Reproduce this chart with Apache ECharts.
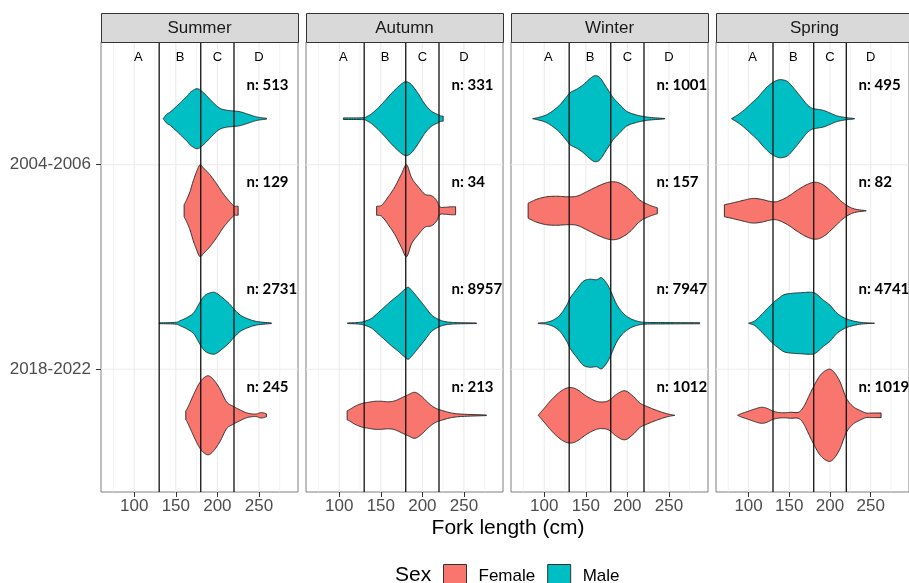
<!DOCTYPE html>
<html><head><meta charset="utf-8">
<script src="https://cdn.jsdelivr.net/npm/echarts@6/dist/echarts.min.js"></script>
<style>html,body{margin:0;padding:0;background:#fff}#c{width:909px;height:583px}</style>
</head><body><div id="c"></div><script>
// ---------------- data ----------------
const seasons = ['Summer', 'Autumn', 'Winter', 'Spring'];
const periods = ['2004-2006', '2018-2022'];
const xTicks = [100, 150, 200, 250];
const xMinorTicks = [75, 125, 175, 225, 275];
const classBreaks = [130, 180, 220];
const classLabels = ['A', 'B', 'C', 'D'];
const classLabelX = [105, 155, 200, 250];
const nMale2004 = [513, 331, 1001, 495];
const nFemale2004 = [129, 34, 157, 82];
const nMale2018 = [2731, 8957, 7947, 4741];
const nFemale2018 = [245, 213, 1012, 1019];

// violin profiles: [fork length (cm), relative density (widest violin = 46)]
const summerMale2004 = [[134.8,0],[139,4.5],[143,6.5],[151,12.5],[155,15.5],[159,19],[163,22],[167,26],[171,28.5],[175,30],[179,29],[187,23],[195,16],[203,10.5],[211,8.5],[219,7.8],[227,7],[235,5],[243,2.8],[247,1.8],[253,1],[259,0.5]];
const summerFemale2004 = [[160,6],[163,11],[167,19],[171,30],[175,39],[179,46],[183,43],[191,36],[199,27],[207,17],[215,9],[219,5.5],[221,4],[222,4.5],[225,4.5]];
const summerMale2018 = [[130,0.4],[151,1],[155,2.5],[163,5.5],[171,10],[175,15],[179,21],[183,26],[187,29],[195,31],[199,30],[207,25],[215,19],[219,15],[227,8.5],[235,5],[247,1.8],[265,0.3]];
const summerFemale2018 = [[162,4.5],[163,5.5],[167,12.5],[171,20],[175,27],[179,33],[183,37],[189,39.5],[195,36],[203,26.5],[211,13.5],[219,9],[227,5.5],[235,2.5],[243,1.3],[248,1.5],[251,2.5],[255,2.5],[259,1.5]];
const autumnMale2004 = [[105,0.8],[130,1],[133,2],[139,5],[147,11],[155,18],[163,25.5],[171,32],[177,36],[181,37],[187,34],[195,25],[203,14.5],[211,7.5],[219,4],[221,3],[225,2.5]];
const autumnFemale2004 = [[145,4.5],[151,5.5],[159,14],[167,24],[175,37],[181,46],[187,33],[195,24],[203,16.5],[211,15],[217,10.5],[221,4],[227,3.5],[235,4],[240,4]];
const autumnMale2018 = [[110,0.3],[123,0.8],[130,1.8],[139,5],[147,10.7],[155,16.7],[163,22.7],[171,28],[179,34],[183,36],[187,33],[195,25],[203,16.7],[211,8.3],[219,4],[227,1.7],[239,0.7],[265,0.3]];
const autumnFemale2018 = [[109.5,4.5],[111,5],[119,9],[127,11.7],[135,13],[143,14],[151,14],[159,13.5],[167,14.5],[175,17.5],[183,20.5],[191,23],[199,19],[207,12.5],[215,7.5],[223,5],[235,2.3],[247,1.2],[277,0.3]];
const winterMale2004 = [[86,0],[95,1.7],[103,4],[111,8.3],[119,14],[127,22],[131,26],[139,29.5],[147,34],[155,40],[161,43],[167,41],[175,31],[183,21],[191,14],[199,7.5],[211,3.7],[219,2.3],[227,1.3],[245,0.2]];
const winterFemale2004 = [[80.6,7.5],[83,8.5],[91,11.5],[103,14],[115,14.5],[127,14],[139,14.5],[151,19],[163,24],[175,28],[183,29],[191,27.5],[203,21],[215,10.7],[227,5.5],[236,3]];
const winterMale2018 = [[92.7,0.3],[99,0.6],[103,1],[111,3.3],[119,8.3],[127,18],[131,25],[139,34],[147,42],[155,44],[163,43.5],[169,45.5],[175,40],[179,34],[187,19],[195,10],[203,5],[211,2.3],[219,1],[240,0.7],[287,0.5]];
const winterFemale2018 = [[92.7,0],[99,6],[107,14],[115,20.7],[123,25.7],[131,27.8],[139,26],[151,19],[163,14],[173,13.5],[179,15.5],[187,21],[197,24.5],[207,19],[215,12.3],[223,9],[235,5],[247,1.7],[257,0]];
const springMale2004 = [[79,0],[87,4],[95,9],[103,15],[111.5,21.5],[119.5,29],[127.5,35],[135.5,38.5],[140.5,39],[148,37],[156,30],[164,22],[172,14],[178,10.5],[184,9.5],[192,8.3],[200,5.7],[208,3],[218,1.3],[230,0.2]];
const springFemale2004 = [[70.3,6],[83,8.3],[95,10.7],[105,12.3],[115.5,11.5],[127.5,9.2],[135.5,9.3],[148,14],[160,20.7],[172,26.3],[182,28.5],[192,25.7],[204,17.3],[216,8],[228,2.3],[244.5,0]];
const springMale2018 = [[100,0],[107.5,2.3],[115.5,8.3],[123.5,15],[129.5,20],[135.5,24],[143.5,28.5],[154,30],[164,30.5],[176,31],[182,30],[192,23],[200,18],[208,10.5],[216,6],[224,3.3],[236.5,1],[254.6,0]];
const springFemale2018 = [[86.5,0],[91,1.7],[99.5,4],[107.5,6.3],[115.5,8],[121.5,7.3],[129.5,4.3],[135.5,3],[143.5,2.5],[152,3],[162,3.3],[168,9],[174,19],[180,29],[188,40],[198,46],[204,44],[212,34],[220,17.3],[228,9],[236.5,5],[244.5,2.3],[252.5,2.3],[262.7,2.3]];

// ---------------- assembly ----------------
const profiles = {
  Summer: [{Male: summerMale2004, Female: summerFemale2004}, {Male: summerMale2018, Female: summerFemale2018}],
  Autumn: [{Male: autumnMale2004, Female: autumnFemale2004}, {Male: autumnMale2018, Female: autumnFemale2018}],
  Winter: [{Male: winterMale2004, Female: winterFemale2004}, {Male: winterMale2018, Female: winterFemale2018}],
  Spring: [{Male: springMale2004, Female: springFemale2004}, {Male: springMale2018, Female: springFemale2018}]
};
const nCounts = {
  Male: [nMale2004, nMale2018],
  Female: [nFemale2004, nFemale2018]
};
const COLORS = {Female: '#F8766D', Male: '#00BFC4'};
const W_MAX = 46, HALF = 0.225;
const FONT = 'Liberation Sans, Arial, sans-serif';

// Hermite densification of a profile, for a smooth outline
function densify(prof) {
  const n = prof.length, out = [];
  const m = prof.map((p, i) => {
    const a = prof[Math.max(0, i - 1)], b = prof[Math.min(n - 1, i + 1)];
    return (b[1] - a[1]) / ((b[0] - a[0]) || 1);
  });
  for (let i = 0; i < n - 1; i++) {
    const [x0, y0] = prof[i], [x1, y1] = prof[i + 1], h = x1 - x0;
    const steps = 8;
    for (let s = 0; s < steps; s++) {
      const t = s / steps, t2 = t * t, t3 = t2 * t;
      const y = (2*t3 - 3*t2 + 1) * y0 + (t3 - 2*t2 + t) * h * m[i] + (-2*t3 + 3*t2) * y1 + (t3 - t2) * h * m[i + 1];
      out.push([x0 + t * h, Math.max(0, y)]);
    }
  }
  out.push(prof[n - 1]);
  return out;
}

const PANEL_L = 101, PANEL_STEP = 205, PANEL_W = 197, PANEL_T = 42, PANEL_H = 450;
const grids = [], xAxes = [], yAxes = [], series = [], graphics = [];

seasons.forEach((season, si) => {
  const left = PANEL_L + si * PANEL_STEP;
  grids.push({left: left, top: PANEL_T, width: PANEL_W, height: PANEL_H, show: true, borderColor: '#7F7F7F', borderWidth: 1, backgroundColor: 'transparent'});
  xAxes.push({
    type: 'value', gridIndex: si, min: 60, max: 297,
    axisLine: {show: false},
    axisTick: {show: true, customValues: xTicks, length: 5, lineStyle: {color: '#333'}},
    axisLabel: {customValues: xTicks, color: '#4D4D4D', fontSize: 17, fontFamily: FONT, margin: 6},
    splitLine: {show: false}
  });
  yAxes.push({
    type: 'value', gridIndex: si, min: 0.4, max: 2.6, inverse: true,
    axisLine: {show: false},
    axisTick: {show: si === 0, customValues: [1, 2], length: 5, lineStyle: {color: '#333'}},
    axisLabel: {show: si === 0, customValues: [1, 2], formatter: v => periods[Math.round(v) - 1], color: '#4D4D4D', fontSize: 17, fontFamily: FONT, margin: 10},
    splitLine: {show: false}
  });
  // strip
  graphics.push({type: 'rect', left: left, top: 13, shape: {width: PANEL_W, height: 29}, style: {fill: '#D9D9D9', stroke: '#333', lineWidth: 1}, z: 10});
  graphics.push({type: 'text', x: left + PANEL_W / 2, y: 28, style: {text: season, fill: '#1A1A1A', font: '17px ' + FONT, textAlign: 'center', textVerticalAlign: 'middle'}, z: 11});

  // background grid lines
  series.push({
    type: 'custom', xAxisIndex: si, yAxisIndex: si, silent: true, z: 1,
    data: xMinorTicks.map(v => [v, 0]).concat(xTicks.map(v => [v, 1])).concat([[1, 2], [2, 2]]),
    renderItem: (params, api) => {
      const cs = params.coordSys, kind = api.value(1), v = api.value(0);
      if (kind === 2) {
        const y = api.coord([100, v])[1];
        return {type: 'line', shape: {x1: cs.x, y1: y, x2: cs.x + cs.width, y2: y}, style: {stroke: '#EBEBEB', lineWidth: 1.1}};
      }
      const x = api.coord([v, 1])[0];
      return {type: 'line', shape: {x1: x, y1: cs.y, x2: x, y2: cs.y + cs.height}, style: {stroke: '#EBEBEB', lineWidth: kind === 1 ? 1.1 : 0.6}};
    }
  });

  // violins
  ['Female', 'Male'].forEach(sex => {
    series.push({
      type: 'custom', name: sex, xAxisIndex: si, yAxisIndex: si, z: 2,
      itemStyle: {color: COLORS[sex]},
      data: [[0, 0], [1, 0]],
      renderItem: (params, api) => {
        const p = api.value(0);
        const prof = densify(profiles[season][p][sex]);
        const yc = p + 1 + (sex === 'Male' ? -HALF : HALF);
        const top = [], bot = [];
        prof.forEach(([x, w]) => {
          const h = w / W_MAX * HALF;
          top.push(api.coord([x, yc - h]));
          bot.push(api.coord([x, yc + h]));
        });
        return {type: 'polygon', shape: {points: top.concat(bot.reverse())}, style: {fill: COLORS[sex], stroke: '#222', lineWidth: 0.9}};
      }
    });
  });

  // class break lines
  series.push({
    type: 'custom', xAxisIndex: si, yAxisIndex: si, silent: true, z: 3,
    data: classBreaks.map(v => [v, 0]),
    renderItem: (params, api) => {
      const cs = params.coordSys, x = api.coord([api.value(0), 1])[0];
      return {type: 'line', shape: {x1: x, y1: cs.y, x2: x, y2: cs.y + cs.height}, style: {stroke: '#111', lineWidth: 1.3}};
    }
  });

  // class letters
  series.push({
    type: 'custom', xAxisIndex: si, yAxisIndex: si, silent: true, z: 4,
    data: classLabelX.map((v, i) => [v, i]),
    renderItem: (params, api) => {
      const pt = api.coord([api.value(0), 0.475]);
      return {type: 'text', x: pt[0], y: pt[1], style: {text: classLabels[api.value(1)], fill: '#000', font: '13px ' + FONT, textAlign: 'center', textVerticalAlign: 'middle'}};
    }
  });

  // sample sizes
  series.push({
    type: 'custom', xAxisIndex: si, yAxisIndex: si, silent: true, z: 4,
    data: [[0, 0], [0, 1], [1, 0], [1, 1]],
    renderItem: (params, api) => {
      const p = api.value(0), sexIdx = api.value(1);
      const sex = sexIdx === 0 ? 'Male' : 'Female';
      const yv = p + 1 + (sex === 'Male' ? -0.39 : 0.085);
      const pt = api.coord([235, yv]);
      return {type: 'text', x: pt[0], y: pt[1], style: {text: 'n: ' + nCounts[sex][p][si], fill: '#000', font: 'bold 15px Lato, sans-serif', textAlign: 'left', textVerticalAlign: 'middle'}};
    }
  });
});

graphics.push({type: 'text', x: 508, y: 528, style: {text: 'Fork length (cm)', fill: '#000', font: '21px ' + FONT, textAlign: 'center', textVerticalAlign: 'middle'}});
graphics.push({type: 'text', x: 395, y: 575, style: {text: 'Sex', fill: '#000', font: '21px ' + FONT, textAlign: 'left', textVerticalAlign: 'middle'}});

const chart = echarts.init(document.getElementById('c'), null, {renderer: 'canvas'});
chart.setOption({
  animation: false,
  backgroundColor: '#fff',
  grid: grids, xAxis: xAxes, yAxis: yAxes, series: series,
  graphic: graphics,
  legend: {
    data: ['Female', 'Male'], left: 443, top: 564, padding: 0, itemGap: 12,
    icon: 'rect', itemWidth: 23, itemHeight: 23,
    itemStyle: {borderColor: '#333', borderWidth: 1},
    textStyle: {color: '#000', fontSize: 17, fontFamily: FONT, padding: [0, 0, 0, 7]},
    selectedMode: false
  }
});
</script></body></html>
